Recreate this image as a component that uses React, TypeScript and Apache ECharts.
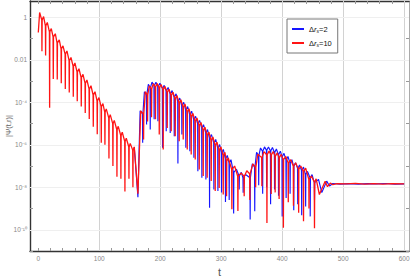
import React, { useEffect, useRef } from 'react';
import * as echarts from 'echarts';

// ---- axes ----
const xLabelValues = [0, 100, 200, 300, 400, 500, 600];
const xTickValues = [0, 20, 40, 60, 80, 100, 120, 140, 160, 180, 200, 220, 240, 260, 280, 300, 320, 340, 360, 380, 400, 420, 440, 460, 480, 500, 520, 540, 560, 580, 600];
const xGridValues = [100, 200, 300, 400, 500, 600];
const yLabelValues = [-10, -8, -6, -4, -2, 0];
const yLabelTexts = ['10⁻¹⁰', '10⁻⁸', '10⁻⁶', '10⁻⁴', '0.01', '1'];
const yTickValues = [-11, -10, -9, -8, -7, -6, -5, -4, -3, -2, -1, 0];
const yGridValues = [-10, -8, -6, -4, -2, 0];

// ---- data: t and log10|Ψ| read at the lobe tops, the dips, and the rim level where each dip starts ----
const startT = 0;
const startLog = -0.71;

// initial ringdown (both curves coincide; the red one is drawn on top and hides the blue one)
const sharedPeakT = [2.2, 8.7, 14.8, 21.3, 27.9, 34.4, 40.5, 47, 53.6, 60.1, 66.7, 73.3, 79.8, 86.4, 93, 99.5, 106, 111.5, 118, 124.6, 131.1, 137.7, 144.3, 150.8, 157.4];
const sharedPeakLog = [0.23, 0.04, -0.24, -0.53, -0.77, -1.06, -1.34, -1.58, -1.89, -2.15, -2.42, -2.68, -2.95, -3.22, -3.5, -3.78, -4.06, -4.31, -4.58, -4.85, -5.13, -5.41, -5.69, -5.94, -6.1];
const sharedDipT = [6, 12, 18.6, 24.6, 31.1, 37.7, 44.3, 50.8, 57.4, 63.9, 70.5, 77, 83.6, 90.2, 96.7, 103.3, 109.3, 115.9, 122.4, 129, 135.5, 142.1, 148.7, 155.2];
const sharedDipLog = [-1.6, -1.8, -4.25, -2.9, -2.93, -3.1, -3.37, -3.54, -3.74, -3.95, -4.2, -4.5, -4.78, -5.15, -5.5, -5.9, -6.0, -6.65, -7.0, -7.5, -7.6, -8.2, -7.6, -8.0];
const sharedRimLog = [-0.12, -0.4, -0.68, -0.92, -1.2, -1.48, -1.73, -2.03, -2.3, -2.57, -2.83, -3.1, -3.37, -3.65, -3.93, -4.2, -4.46, -4.73, -5.0, -5.28, -5.56, -5.84, -6.09, -6.25];

// Δr_s = 2 (blue) — echoes
const blueDipT = [163.4, 171.2, 177.6, 183.6, 190, 196.2, 203.8, 209.8, 216.4, 223, 229, 235.5, 242, 248.6, 255.2, 261.7, 268.3, 274.9, 280.9, 288, 294.6, 300.5, 307, 313.1, 320.4, 329.5, 336, 347.5, 355, 361.5, 368, 374.5, 381, 387.5, 394, 400, 406.5, 413, 419, 425.5, 432, 438.5, 446, 453, 465, 477.6];
const blueDipLog = [-8.47, -5.9, -5.05, -5.28, -4.8, -4.89, -6.14, -5.36, -5.44, -5.6, -6.88, -5.52, -6.14, -6.3, -6.61, -7.24, -7.55, -7.63, -8.96, -8.1, -8.18, -8.25, -8.69, -8.6, -9.23, -8.1, -8.26, -9.52, -9.13, -7.9, -8.3, -8.0, -8.8, -8.1, -8.4, -9.37, -8.5, -8.3, -9.08, -8.8, -9.32, -8.9, -9.37, -8.6, -8.25, -7.94];
const blueRimLog = [null, -4.55, -3.65, -3.3, -3.2, -3.25, -3.35, -3.45, -3.6, -3.75, -3.95, -4.15, -4.35, -4.57, -4.8, -5.0, -5.2, -5.43, -5.67, -5.9, -6.14, -6.37, -6.65, -6.85, -7.3, -7.45, -7.55, -7.55, -7.05, -6.5, -6.3, -6.25, -6.28, -6.35, -6.45, -6.55, -6.7, -6.85, -7.0, -7.1, -7.2, -7.4, -7.55, -7.78, null, null];
const bluePeakT = [167, 174, 180.5, 186.5, 193, 199.5, 206.5, 213, 219.5, 226, 232, 238.5, 245, 251.5, 258, 264.5, 271, 277.5, 284, 291, 297.5, 303.5, 310, 316, 325, 333, 340, 351, 358, 364.5, 371, 377.5, 384, 390.5, 397, 403, 409.5, 416, 422, 428.5, 435, 441.5, 449, 459.6, 473];
const bluePeakLog = [-4.4, -3.5, -3.15, -3.05, -3.06, -3.1, -3.2, -3.3, -3.45, -3.6, -3.8, -4.0, -4.2, -4.42, -4.66, -4.85, -5.05, -5.28, -5.52, -5.75, -5.99, -6.22, -6.5, -6.7, -7.15, -7.3, -7.4, -6.9, -6.35, -6.15, -6.1, -6.1, -6.13, -6.2, -6.3, -6.4, -6.55, -6.7, -6.85, -6.95, -7.05, -7.25, -7.4, -7.63, -7.71];
const blueTailT = [483, 495, 510, 525, 540, 555, 570, 585, 600];
const blueTailLog = [-7.82, -7.85, -7.83, -7.85, -7.83, -7.84, -7.82, -7.85, -7.84];

// Δr_s = 10 (red) — echoes
const redDipT = [163.4, 172.7, 179.2, 185.7, 192.2, 198.4, 204.9, 211.5, 218, 224.6, 231.1, 237.7, 244.3, 250.8, 257.4, 264, 270.5, 277, 283.6, 290.2, 296.7, 303.3, 308.8, 317.5, 327.4, 337.7, 347, 356.5, 366.7, 375, 382, 388.5, 395, 402, 410, 418.5, 427, 435, 444, 453, 461, 474.3];
const redDipLog = [-8.3, -5.75, -4.9, -4.7, -4.8, -5.52, -6.22, -5.21, -5.36, -5.6, -5.83, -5.75, -6.22, -6.46, -6.69, -7.16, -7.47, -7.55, -7.71, -8.18, -8.03, -8.34, -8.42, -9.04, -9.12, -8.42, -8.6, -8.0, -7.95, -9.68, -8.32, -8.24, -8.55, -9.91, -8.71, -8.87, -9.2, -9.6, -9.0, -9.93, -8.34, -7.97];
const redRimLog = [null, -4.55, -3.65, -3.37, -3.27, -3.31, -3.4, -3.53, -3.67, -3.83, -4.03, -4.23, -4.45, -4.67, -4.89, -5.1, -5.32, -5.55, -5.78, -6.02, -6.25, -6.5, -6.77, -7.15, -7.48, -7.48, -7.37, -7.05, -6.6, -6.47, -6.47, -6.53, -6.6, -6.7, -6.85, -7.0, -7.15, -7.25, -7.62, -7.75, null, null];
const redPeakT = [168, 175.5, 182, 188.5, 195, 201.2, 207.7, 214.3, 220.8, 227.4, 233.9, 240.5, 247.1, 253.6, 260.2, 266.8, 273.3, 279.8, 286.4, 293, 299.5, 306.1, 311.6, 322, 333, 342, 352, 360, 370, 378.5, 385.5, 392, 398.5, 406, 414, 422, 430.5, 438.5, 448, 455.7, 470.5];
const redPeakLog = [-4.4, -3.5, -3.22, -3.12, -3.12, -3.16, -3.25, -3.38, -3.52, -3.68, -3.88, -4.08, -4.3, -4.52, -4.74, -4.95, -5.17, -5.4, -5.63, -5.87, -6.1, -6.35, -6.62, -7.0, -7.33, -7.22, -6.9, -6.45, -6.32, -6.3, -6.32, -6.38, -6.45, -6.55, -6.7, -6.85, -7.0, -7.1, -7.47, -7.6, -7.72];
const redTailT = [479, 483, 490, 505, 520, 535, 550, 565, 580, 600];
const redTailLog = [-7.8, -7.88, -7.83, -7.84, -7.82, -7.85, -7.83, -7.85, -7.83, -7.84];

const seriesNames = ['Δrs=2', 'Δrs=10'];
const seriesColors = ['#1515ff', '#ff1414'];
const seriesWidths = [1.15, 1.3];

const FONT = 'Liberation Sans, Arial, sans-serif';

// half-width (in t) of the narrow spike drawn at each zero of the wave
const SPIKE_HALF = 0.35;

function buildCurve(
  peakT: number[], peakLog: number[],
  dipT: number[], dipLog: number[], rimLog: (number | null)[],
  tailT: number[], tailLog: number[],
): number[][] {
  const pts: number[][] = [[startT, startLog]];
  for (let k = 0; k < peakT.length; k++) {
    pts.push([peakT[k], peakLog[k]]);
    if (k < dipT.length) {
      const rim = rimLog[k];
      if (rim != null) pts.push([dipT[k] - SPIKE_HALF, rim]);
      pts.push([dipT[k], dipLog[k]]);
      if (rim != null) pts.push([dipT[k] + SPIKE_HALF, rim]);
    }
  }
  for (let k = 0; k < tailT.length; k++) pts.push([tailT[k], tailLog[k]]);
  return pts;
}

export default function App() {
  const ref = useRef<HTMLDivElement>(null);
  useEffect(() => {
    if (!ref.current) return;
    const chart = echarts.init(ref.current, undefined, { renderer: 'svg' });
    // the blue curve lies exactly under the red one until the last common lobe top
    const splitT = sharedPeakT[sharedPeakT.length - 1];
    const blueData = buildCurve(
      sharedPeakT.concat(bluePeakT), sharedPeakLog.concat(bluePeakLog),
      sharedDipT.concat(blueDipT), sharedDipLog.concat(blueDipLog), (sharedRimLog as (number | null)[]).concat(blueRimLog),
      blueTailT, blueTailLog,
    ).filter((p) => p[0] >= splitT);
    const redData = buildCurve(
      sharedPeakT.concat(redPeakT), sharedPeakLog.concat(redPeakLog),
      sharedDipT.concat(redDipT), sharedDipLog.concat(redDipLog), (sharedRimLog as (number | null)[]).concat(redRimLog),
      redTailT, redTailLog,
    );
    const frame = '#333';
    const tickStyle = { show: true, inside: true, length: 3, lineStyle: { color: '#999', width: 1 } };
    const xTick = { ...tickStyle, customValues: xTickValues };
    const yTick = { ...tickStyle, customValues: yTickValues };
    const xMin = -13.6, xMax = 608;
    const yMin = -11, yMax = 0.77;
    const legendLabel = (name: string) => {
      const v = name.split('=')[1];
      return '{d|Δ}{r|r}{s|s}{d|=' + v + '}';
    };
    const curve = (i: number, data: number[][], z: number) => ({
      name: seriesNames[i], type: 'line', data, showSymbol: false, symbol: 'none', z,
      lineStyle: { color: seriesColors[i], width: seriesWidths[i] }, itemStyle: { color: seriesColors[i] },
      emphasis: { disabled: true },
    });
    chart.setOption({
      animation: false,
      textStyle: { fontFamily: FONT },
      grid: { left: 30, right: 6, top: 1, bottom: 26, containLabel: false, outerBoundsMode: 'none' },
      legend: {
        data: seriesNames,
        orient: 'vertical',
        left: 287,
        top: 19,
        backgroundColor: '#fff',
        borderColor: '#777',
        borderWidth: 1,
        borderRadius: 0,
        padding: [6, 6, 6, 4],
        itemWidth: 12,
        itemHeight: 8,
        itemGap: 6,
        itemStyle: { opacity: 0 },
        formatter: legendLabel,
        textStyle: {
          color: '#111',
          fontSize: 7.5,
          fontFamily: FONT,
          rich: {
            d: { fontSize: 7.5, fontFamily: FONT, color: '#111' },
            r: { fontSize: 7.5, fontFamily: FONT, fontStyle: 'italic', color: '#111' },
            s: { fontSize: 5, fontFamily: FONT, fontStyle: 'italic', color: '#111', lineHeight: 3, verticalAlign: 'bottom' },
          },
        },
      },
      xAxis: [
        {
          type: 'value', min: xMin, max: xMax, position: 'bottom',
          name: 't', nameLocation: 'middle', nameGap: 12,
          nameTextStyle: { color: '#555', fontSize: 11, fontFamily: FONT },
          axisLine: { show: true, onZero: false, lineStyle: { color: frame, width: 1.4 } },
          axisTick: xTick,
          axisLabel: { show: true, customValues: xLabelValues, color: '#888', fontSize: 6.5, margin: 4, fontFamily: FONT },
          splitLine: { show: false },
        },
        {
          type: 'value', min: xMin, max: xMax, position: 'top',
          axisLine: { show: true, onZero: false, lineStyle: { color: frame, width: 1.4 } },
          axisTick: xTick,
          axisLabel: { show: false },
          splitLine: { show: false },
        },
      ],
      yAxis: [
        {
          type: 'value', min: yMin, max: yMax, position: 'left',
          name: '|Ψ(t,r)|', nameLocation: 'middle', nameGap: 18, nameMoveOverlap: false,
          nameTextStyle: { color: '#666', fontSize: 7.5, fontFamily: FONT },
          axisLine: { show: true, onZero: false, lineStyle: { color: frame, width: 1.4 } },
          axisTick: yTick,
          axisLabel: {
            show: true, customValues: yLabelValues, color: '#888', fontSize: 6.5, margin: 3, fontFamily: FONT,
            formatter: (v: number) => {
              const i = yLabelValues.indexOf(Math.round(v));
              return i >= 0 ? yLabelTexts[i] : '';
            },
          },
          splitLine: { show: false },
        },
        {
          type: 'value', min: yMin, max: yMax, position: 'right',
          axisLine: { show: true, onZero: false, lineStyle: { color: '#aaa', width: 1 } },
          axisTick: yTick,
          axisLabel: { show: false },
          splitLine: { show: false },
        },
      ],
      series: [
        {
          name: 'grid', type: 'line', data: [], z: 1, silent: true,
          markLine: {
            z: 1, silent: true, symbol: 'none', animation: false,
            label: { show: false },
            emphasis: { disabled: true },
            data: [
              ...xGridValues.map((v) => ({ xAxis: v, lineStyle: { color: '#d2d2d2', width: 1, type: 'solid' } })),
              ...yGridValues.map((v) => ({ yAxis: v, lineStyle: { color: '#efefef', width: 1, type: 'solid' } })),
            ],
          },
        },
        curve(0, blueData, 3),
        curve(1, redData, 4),
      ],
    });
    return () => chart.dispose();
  }, []);
  return <div ref={ref} style={{ position: 'absolute', left: 0, top: 0, width: 415, height: 277 }} />;
}
